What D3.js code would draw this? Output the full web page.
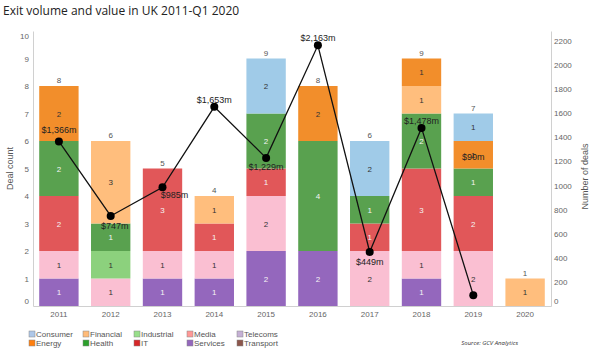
<!DOCTYPE html>
<html>
<head>
<meta charset="utf-8">
<script src="https://cdn.jsdelivr.net/npm/d3@7"></script>
<style>
  body { margin: 0; background: #fff; }
  text { font-family: "Liberation Sans", Arial, sans-serif; }
</style>
</head>
<body>
<div id="chart"></div>
<script>
// Data
const years = ["2011", "2012", "2013", "2014", "2015", "2016", "2017", "2018", "2019", "2020"];
const sectors = ["Consumer", "Energy", "Financial", "Health", "Industrial", "IT", "Media", "Services", "Telecoms", "Transport"];
const consumer   = [0, 0, 0, 0, 2, 0, 2, 0, 1, 0];
const energy     = [2, 0, 0, 0, 0, 2, 0, 1, 1, 0];
const financial  = [0, 3, 0, 1, 0, 0, 0, 1, 0, 1];
const health     = [2, 1, 0, 0, 2, 4, 1, 2, 1, 0];
const industrial = [0, 1, 0, 0, 0, 0, 0, 0, 0, 0];
const it         = [2, 0, 3, 1, 1, 0, 1, 3, 2, 0];
const media      = [1, 1, 1, 1, 2, 0, 2, 1, 2, 0];
const services   = [1, 0, 1, 1, 2, 2, 0, 1, 0, 0];
const telecoms   = [0, 0, 0, 0, 0, 0, 0, 0, 0, 0];
const transport  = [0, 0, 0, 0, 0, 0, 0, 0, 0, 0];
const dealValue  = [1366, 747, 985, 1653, 1229, 2163, 449, 1478, 90, null];
const leftTicks  = [0, 1, 2, 3, 4, 5, 6, 7, 8, 9, 10];
const rightTicks = [0, 200, 400, 600, 800, 1000, 1200, 1400, 1600, 1800, 2000, 2200];

const seriesBySector = {
    Consumer: consumer, Energy: energy, Financial: financial, Health: health,
    Industrial: industrial, IT: it, Media: media, Services: services,
    Telecoms: telecoms, Transport: transport
};

// bar fill colours and legend swatch colours (they differ a little in the original)
const barColor = {
    Consumer: "#a0cbe8", Energy: "#f28e2b", Financial: "#ffbe7d", Health: "#59a14f",
    Industrial: "#8cd17d", IT: "#e15759", Media: "#fabfd2", Services: "#9467bd",
    Telecoms: "#c5b0d5", Transport: "#8c564b"
};
const legendColor = {
    Consumer: "#aec7e8", Energy: "#ff7f0e", Financial: "#ffbb78", Health: "#2ca02c",
    Industrial: "#98df8a", IT: "#d62728", Media: "#ff9896", Services: "#9467bd",
    Telecoms: "#c5b0d5", Transport: "#8c564b"
};
const darkSegments = ["Health", "IT", "Services", "Transport"];

const width = 600, height = 353;
const margin = { top: 31, right: 49, bottom: 47, left: 33 };

const svg = d3.select("#chart").append("svg")
    .attr("width", width)
    .attr("height", height);

// title
svg.append("text")
    .attr("x", 3).attr("y", 15)
    .style("font-family", "'Open Sans', sans-serif")
    .style("font-size", "12px")
    .attr("fill", "#222")
    .text("Exit volume and value in UK 2011-Q1 2020");

// scales
const x = d3.scaleBand()
    .domain(years)
    .range([margin.left, width - margin.right])
    .paddingInner(0.24)
    .paddingOuter(0.12);
const yLeft = d3.scaleLinear().domain([0, 10]).range([height - margin.bottom, margin.top]);
const yRight = d3.scaleLinear().domain([0, 2282]).range([height - margin.bottom, margin.top]);

// stacking: bottom = last alphabetically
const stackKeys = sectors.slice().reverse();
const table = years.map((yr, i) => {
    const row = { year: yr };
    sectors.forEach(s => row[s] = seriesBySector[s][i]);
    return row;
});
const stacked = d3.stack().keys(stackKeys)(table);

const barG = svg.append("g");
stacked.forEach(layer => {
    const key = layer.key;
    const segs = layer.filter(d => d[1] - d[0] > 0);
    barG.selectAll(null)
        .data(segs)
        .enter()
        .append("rect")
        .attr("x", d => x(d.data.year))
        .attr("width", x.bandwidth())
        .attr("y", d => yLeft(d[1]))
        .attr("height", d => yLeft(d[0]) - yLeft(d[1]))
        .attr("fill", barColor[key]);
    barG.selectAll(null)
        .data(segs)
        .enter()
        .append("text")
        .attr("x", d => x(d.data.year) + x.bandwidth() / 2)
        .attr("y", d => (yLeft(d[0]) + yLeft(d[1])) / 2 + 3)
        .attr("text-anchor", "middle")
        .style("font-size", "8px")
        .attr("fill", darkSegments.includes(key) ? "#f4f4f4" : "#333")
        .text(d => d[1] - d[0]);
});

// totals above bars
const totals = years.map((yr, i) => d3.sum(sectors, s => seriesBySector[s][i]));
svg.append("g").selectAll("text")
    .data(years)
    .enter()
    .append("text")
    .attr("x", d => x(d) + x.bandwidth() / 2)
    .attr("y", (d, i) => yLeft(totals[i]) - 3)
    .attr("text-anchor", "middle")
    .style("font-size", "8px")
    .attr("fill", "#555")
    .text((d, i) => totals[i]);

// axes
const axisColor = "#d0d0d0";
const leftAxis = svg.append("g")
    .attr("transform", `translate(${margin.left},0)`)
    .call(d3.axisLeft(yLeft).tickValues(leftTicks).tickSize(0).tickPadding(4));
leftAxis.select(".domain").attr("stroke", axisColor);
leftAxis.selectAll("text")
    .style("font-size", "8px").style("font-family", "'Liberation Sans', Arial, sans-serif")
    .attr("fill", "#666")
    .attr("dy", d => d === 10 ? "0.95em" : d === 0 ? "-0.3em" : "0.32em");

const rightAxis = svg.append("g")
    .attr("transform", `translate(${width - margin.right},0)`)
    .call(d3.axisRight(yRight).tickValues(rightTicks).tickFormat(d3.format("d")).tickSize(0).tickPadding(3));
rightAxis.select(".domain").attr("stroke", axisColor);
rightAxis.selectAll("text")
    .style("font-size", "8px").style("font-family", "'Liberation Sans', Arial, sans-serif")
    .attr("fill", "#666")
    .attr("dy", d => d === 0 ? "-0.3em" : "0.32em");

const bottomAxis = svg.append("g")
    .attr("transform", `translate(0,${height - margin.bottom})`)
    .call(d3.axisBottom(x).tickSize(0).tickPadding(5));
bottomAxis.select(".domain").attr("stroke", axisColor);
bottomAxis.selectAll("text")
    .style("font-size", "8px").style("font-family", "'Liberation Sans', Arial, sans-serif")
    .attr("fill", "#666");

// axis titles
svg.append("text")
    .attr("transform", `translate(13,${(margin.top + height - margin.bottom) / 2}) rotate(-90)`)
    .attr("text-anchor", "middle")
    .style("font-size", "9px")
    .attr("fill", "#555")
    .text("Deal count");
svg.append("text")
    .attr("transform", `translate(588,${(margin.top + height - margin.bottom) / 2 + 8}) rotate(-90)`)
    .attr("text-anchor", "middle")
    .style("font-size", "9px")
    .attr("fill", "#555")
    .text("Number of deals");

// value line
const linePts = years.map((yr, i) => ({ year: yr, v: dealValue[i] })).filter(d => d.v !== null);
const line = d3.line()
    .x(d => x(d.year) + x.bandwidth() / 2)
    .y(d => yRight(d.v));
svg.append("path")
    .datum(linePts)
    .attr("d", line)
    .attr("fill", "none")
    .attr("stroke", "#111")
    .attr("stroke-width", 1.3);
svg.append("g").selectAll("circle")
    .data(linePts)
    .enter()
    .append("circle")
    .attr("cx", d => x(d.year) + x.bandwidth() / 2)
    .attr("cy", d => yRight(d.v))
    .attr("r", 4)
    .attr("fill", "#000");

// label offsets for each point (dx, dy) as in the original
const labelDx = [0, 4, 12, 0, 0, 0, 0, 0, 0];
const labelDy = [-8, 13, 11, -4, 12, -4, 13, -4, -135];
svg.append("g").selectAll("text")
    .data(linePts)
    .enter()
    .append("text")
    .attr("x", (d, i) => x(d.year) + x.bandwidth() / 2 + labelDx[i])
    .attr("y", (d, i) => yRight(d.v) + labelDy[i])
    .attr("text-anchor", "middle")
    .style("font-size", "9px")
    .attr("fill", "#222")
    .text(d => "$" + d3.format(",")(d.v) + "m");

// legend
const legendRows = [
    ["Consumer", "Financial", "Industrial", "Media", "Telecoms"],
    ["Energy", "Health", "IT", "Services", "Transport"]
];
const legendCols = [29, 83, 134, 187, 237];
const legend = svg.append("g");
legendRows.forEach((row, r) => {
    const g = legend.selectAll(null)
        .data(row)
        .enter()
        .append("g")
        .attr("transform", (d, c) => `translate(${legendCols[c]},${331 + r * 9})`);
    g.append("rect")
        .attr("width", 6).attr("height", 6)
        .attr("fill", d => legendColor[d])
        .attr("stroke", "#888").attr("stroke-width", 0.5);
    g.append("text")
        .attr("x", 7).attr("y", 6)
        .style("font-size", "8px")
        .attr("fill", "#555")
        .text(d => d);
});

// source note
svg.append("text")
    .attr("x", 518).attr("y", 345)
    .attr("text-anchor", "end")
    .style("font-family", "'Open Sans', sans-serif")
    .style("font-size", "6px")
    .style("font-style", "italic")
    .attr("fill", "#333")
    .text("Source: GCV Analytics");
</script>
</body>
</html>
